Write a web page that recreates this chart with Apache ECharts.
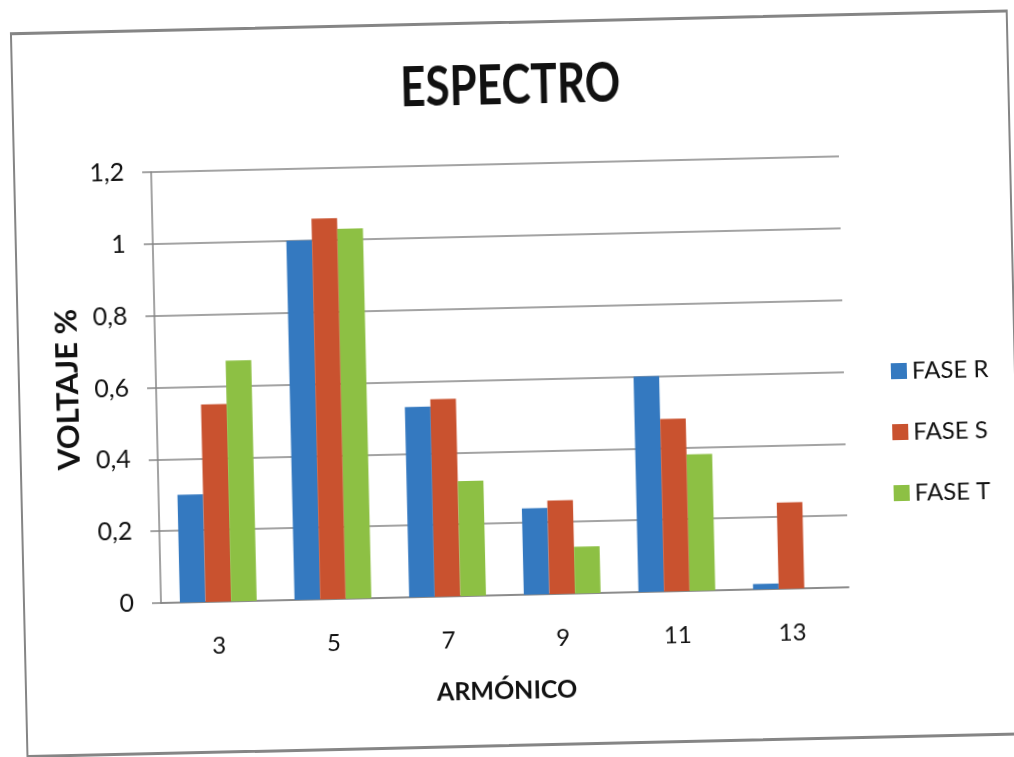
<!DOCTYPE html>
<html>
<head>
<meta charset="utf-8">
<script src="https://cdn.jsdelivr.net/npm/echarts@6/dist/echarts.min.js"></script>
<style>
  html, body { margin: 0; padding: 0; background: #ffffff; overflow: hidden; }
  #page {
    position: absolute; left: 0; top: 0; width: 1014px; height: 757px;
    transform-origin: 161px 603px;
    transform: rotate(-1.31deg);
  }
  #frame {
    position: absolute; left: 23px; top: 29px; width: 994px; height: 720px;
    border-style: solid; border-color: #858585;
    border-width: 3px 2px 3px 2px; background: #ffffff;
  }
  #chart { position: absolute; left: 0; top: 0; width: 1014px; height: 757px; }
</style>
</head>
<body>
<div id="page">
  <div id="frame"></div>
  <div id="chart"></div>
</div>
<script>
// Harmonic orders on the x axis
const harmonics = ['3', '5', '7', '9', '11', '13'];
// Voltage distortion (%) per phase
const faseR = [0.30, 1.00, 0.53, 0.24, 0.60, 0.015];
const faseS = [0.55, 1.06, 0.55, 0.26, 0.48, 0.24];
const faseT = [0.67, 1.03, 0.32, 0.13, 0.38, 0];
// Y axis tick labels (decimal comma)
const yTickLabels = ['0', '0,2', '0,4', '0,6', '0,8', '1', '1,2'];

const chartTitle = 'ESPECTRO';
const seriesNames = ['FASE R', 'FASE S', 'FASE T'];
const seriesData = [faseR, faseS, faseT];
const colors = ['#3479c0', '#c9522f', '#8dc044'];

const bodyFont = 'Lato, "Open Sans", sans-serif';
const gridColor = '#858585';

const chart = echarts.init(document.getElementById('chart'), null, { renderer: 'canvas' });

chart.setOption({
  animation: false,
  color: colors,
  // Title drawn as a text element so it can be set in a tall, condensed look
  graphic: [{
    type: 'text',
    x: 522,
    y: 94,
    scaleY: 1.28,
    style: {
      text: chartTitle,
      font: 'bold 44px Lato, sans-serif',
      fill: '#111111',
      textAlign: 'center',
      textVerticalAlign: 'middle'
    }
  }],
  legend: {
    orient: 'vertical',
    left: 891,
    top: 371,
    itemWidth: 16,
    itemHeight: 16,
    itemGap: 37,
    icon: 'rect',
    data: seriesNames,
    textStyle: { fontFamily: bodyFont, fontSize: 24, lineHeight: 24, color: '#111111' }
  },
  grid: { left: 161, top: 172, width: 688, height: 431, containLabel: false },
  xAxis: {
    type: 'category',
    data: harmonics,
    name: 'ARMÓNICO',
    nameLocation: 'middle',
    nameGap: 83,
    nameTextStyle: { fontFamily: bodyFont, fontWeight: 'bold', fontSize: 25, color: '#111111' },
    axisLine: { show: true, lineStyle: { color: gridColor, width: 1.5 } },
    axisTick: { show: false },
    axisLabel: { margin: 32, fontFamily: bodyFont, fontSize: 24, color: '#111111' },
    splitLine: { show: false }
  },
  yAxis: {
    type: 'value',
    min: 0,
    max: 1.2,
    interval: 0.2,
    name: 'VOLTAJE %',
    nameLocation: 'middle',
    nameGap: 63,
    nameTextStyle: { fontFamily: bodyFont, fontWeight: 'bold', fontSize: 31, color: '#111111' },
    axisLine: { show: true, lineStyle: { color: gridColor, width: 1.5 } },
    axisTick: { show: true, length: 9, lineStyle: { color: gridColor, width: 1.5 } },
    axisLabel: {
      margin: 27,
      fontFamily: bodyFont,
      fontSize: 25,
      color: '#111111',
      formatter: function (v) { return yTickLabels[Math.round(v / 0.2)]; }
    },
    splitLine: { show: true, lineStyle: { color: gridColor, width: 1.5 } }
  },
  series: seriesNames.map(function (name, i) {
    return {
      name: name,
      type: 'bar',
      data: seriesData[i],
      barGap: '0%',
      barCategoryGap: '33%',
      itemStyle: { color: colors[i] }
    };
  })
});
</script>
</body>
</html>
